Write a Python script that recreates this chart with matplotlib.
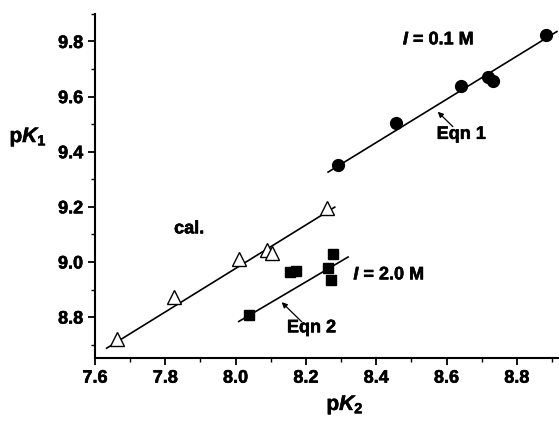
import numpy as np
import matplotlib.pyplot as plt
import matplotlib.patheffects as pe
from matplotlib.ticker import MultipleLocator

plt.rcParams['font.family'] = ['Liberation Sans', 'DejaVu Sans']
plt.rcParams['font.weight'] = 'bold'
plt.rcParams['mathtext.fontset'] = 'custom'
plt.rcParams['mathtext.rm'] = 'Liberation Sans:bold'
plt.rcParams['mathtext.bf'] = 'Liberation Sans:bold'
plt.rcParams['mathtext.it'] = 'Liberation Sans:italic:bold'

# I = 0.1 M (circulos)
pk2_01 = [8.292, 8.456, 8.641, 8.718, 8.733, 8.884]
pk1_01 = [9.350, 9.504, 9.640, 9.671, 9.657, 9.822]
# cal. (triangulos)
pk2_cal = [7.662, 7.825, 8.010, 8.088, 8.104, 8.259]
pk1_cal = [8.720, 8.872, 9.010, 9.044, 9.032, 9.195]
# I = 2.0 M (cuadrados)
pk2_20 = [8.039, 8.154, 8.173, 8.262, 8.278, 8.271]
pk1_20 = [8.808, 8.963, 8.968, 8.977, 9.028, 8.935]

# rectas de ajuste (extremos)
eqn1_x = [8.263, 8.914]
eqn1_y = [9.326, 9.836]
cal_x = [7.633, 8.282]
cal_y = [8.687, 9.199]
eqn2_x = [8.009, 8.320]
eqn2_y = [8.784, 9.018]

xticks = [7.6, 7.8, 8.0, 8.2, 8.4, 8.6, 8.8]
yticks = [8.8, 9.0, 9.2, 9.4, 9.6, 9.8]

grueso = [pe.withStroke(linewidth=0.4, foreground='black')]

fig = plt.figure(figsize=(5.59, 4.22), dpi=100)
ax = fig.add_axes([0.170, 0.152, 0.830, 0.815])

ax.plot(eqn1_x, eqn1_y, color='black', lw=1.2)
ax.plot(cal_x, cal_y, color='black', lw=1.2)
ax.plot(eqn2_x, eqn2_y, color='black', lw=1.2)

ax.plot(pk2_01, pk1_01, 'o', color='black', ms=8.5, ls='none')
ax.plot(pk2_cal, pk1_cal, '^', mfc='white', mec='black', mew=1.0, ms=10, ls='none')
ax.plot(pk2_20, pk1_20, 's', color='black', ms=7.5, ls='none')

ax.set_xlim(7.6, 8.92)
ax.set_ylim(8.652, 9.90)
ax.set_xticks(xticks, labels=['%.1f' % v for v in xticks], fontweight='bold', fontsize=13)
ax.set_yticks(yticks, labels=['%.1f' % v for v in yticks], fontweight='bold', fontsize=13)
ax.xaxis.set_minor_locator(MultipleLocator(0.1))
ax.yaxis.set_minor_locator(MultipleLocator(0.1))
for lab in ax.get_xticklabels() + ax.get_yticklabels():
    lab.set_path_effects(grueso)

for s in ['top', 'right']:
    ax.spines[s].set_visible(False)
for s in ['left', 'bottom']:
    ax.spines[s].set_linewidth(1.5)
ax.tick_params(which='major', direction='out', length=5, width=1.3)
ax.tick_params(which='minor', direction='out', length=3, width=1.0)

ax.set_xlabel(r'$\mathrm{p}\mathit{K}_\mathrm{2}$', fontsize=15, va='center', path_effects=grueso)
ax.set_ylabel(r'$\mathrm{p}\mathit{K}_\mathrm{1}$', fontsize=15, rotation=0, ha='center', va='center',
              path_effects=grueso)
ax.xaxis.set_label_coords(0.539, -0.137)
ax.yaxis.set_label_coords(-0.144, 0.642)

ax.text(8.476, 9.806, r'$\mathit{I}$ = 0.1 M', fontsize=13, va='center', path_effects=grueso)
ax.text(8.335, 8.953, r'$\mathit{I}$ = 2.0 M', fontsize=13, va='center', path_effects=grueso)
ax.text(7.825, 9.120, 'cal.', fontsize=13, fontweight='bold', va='center', path_effects=grueso)

ax.text(8.572, 9.463, 'Eqn 1', fontsize=13, fontweight='bold', va='center', path_effects=grueso)
ax.annotate('', xy=(8.575, 9.545), xytext=(8.618, 9.491),
            arrowprops=dict(arrowstyle='-|>', color='black', lw=0.9, mutation_scale=8,
                            shrinkA=0, shrinkB=0))
ax.text(8.146, 8.761, 'Eqn 2', fontsize=13, fontweight='bold', va='center', path_effects=grueso)
ax.annotate('', xy=(8.131, 8.854), xytext=(8.188, 8.783),
            arrowprops=dict(arrowstyle='-|>', color='black', lw=0.9, mutation_scale=8,
                            shrinkA=0, shrinkB=0))

fig.savefig('out.png', dpi=100)
